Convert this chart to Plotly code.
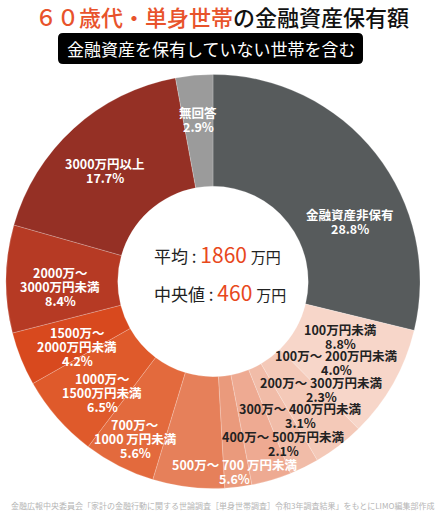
import plotly.graph_objects as go

W, H = 445, 512

categories = ["金融資産非保有", "100万円未満", "100万〜200万円未満", "200万〜300万円未満",
              "300万〜400万円未満", "400万〜500万円未満", "500万〜700万円未満",
              "700万〜1000万円未満", "1000万〜1500万円未満", "1500万〜2000万円未満",
              "2000万〜3000万円未満", "3000万円以上", "無回答"]
values = [28.8, 8.8, 4.0, 2.3, 3.1, 2.1, 5.6, 5.6, 6.5, 4.2, 8.4, 17.7, 2.9]
label_lines = [
    ["金融資産非保有"], ["100万円未満"], ["100万～ 200万円未満"], ["200万～ 300万円未満"],
    ["300万～ 400万円未満"], ["400万～ 500万円未満"], ["500万～ 700 万円未満"],
    ["700万～", "1000 万円未満"], ["1000万～", "1500万円未満"], ["1500万～", "2000万円未満"],
    ["2000万～", "3000万円未満"], ["3000万円以上"], ["無回答"],
]
mean_value = 1860
median_value = 460

colors = ["#575b5c", "#f7d6c9", "#f4c9b8", "#f1bca8", "#eeaa92", "#ea9a7c", "#e6805a",
          "#e36a3d", "#df5a2b", "#d8491e", "#b63a24", "#953025", "#9b9b9b"]
text_colors = ["white", "#222", "#222", "#222", "#222", "#222", "white",
               "white", "white", "white", "white", "white", "white"]
# label block positions in pixels (x centre, y of first line)
label_pos = [(350, 214), (340, 329), (336, 355), (321, 382), (300, 408), (283, 436),
             (235, 464), (135, 424), (102, 378), (77, 332), (60, 272), (105, 163), (198, 112)]

FONT = "Noto Sans CJK JP"

def px(x):
    return x / W

def py(y):
    return 1 - y / H

fig = go.Figure(go.Pie(
    labels=categories, values=values, sort=False, direction="clockwise", rotation=0,
    hole=0.46, textinfo="none", hoverinfo="label+percent",
    marker=dict(colors=colors, line=dict(color="rgba(255,255,255,0.35)", width=0.6)),
    domain=dict(x=[px(6), px(420)], y=[py(488.5), py(74.5)]),
    showlegend=False,
))

ann = []
for lines, val, (cx, cy), tc in zip(label_lines, values, label_pos, text_colors):
    all_lines = lines + [f"{val:.1f}%"]
    for i, t in enumerate(all_lines):
        ann.append(dict(x=px(cx), y=py(cy + i * 14), xref="paper", yref="paper",
                        text=t, showarrow=False, xanchor="center", yanchor="middle",
                        font=dict(family=FONT, size=12.5, color=tc, weight="bold")))

# title
ann.append(dict(x=px(222), y=py(16), xref="paper", yref="paper", showarrow=False,
                xanchor="center", yanchor="middle",
                text="<span style='color:#e8532b'>６０歳代・単身世帯</span>の金融資産保有額",
                font=dict(family=FONT, size=22, color="#111", weight=500)))
# subtitle
ann.append(dict(x=px(211), y=py(48.5), xref="paper", yref="paper", showarrow=False,
                xanchor="center", yanchor="middle",
                text="金融資産を保有していない世帯を含む",
                font=dict(family=FONT, size=17, color="white")))
# centre texts
ann.append(dict(x=px(152), y=py(254), xref="paper", yref="paper", showarrow=False,
                xanchor="left", yanchor="middle",
                text=f"平均 : <span style='color:#e8481c;font-size:21px'>{mean_value}</span> <span style='font-size:15px'>万円</span>",
                font=dict(family=FONT, size=17, color="#222")))
ann.append(dict(x=px(152), y=py(292), xref="paper", yref="paper", showarrow=False,
                xanchor="left", yanchor="middle",
                text=f"中央値 : <span style='color:#e8481c;font-size:21px'>{median_value}</span> <span style='font-size:15px'>万円</span>",
                font=dict(family=FONT, size=17, color="#222")))
# source
ann.append(dict(x=px(222.5), y=py(505), xref="paper", yref="paper", showarrow=False,
                xanchor="center", yanchor="middle",
                text="金融広報中央委員会「家計の金融行動に関する世論調査［単身世帯調査］令和3年調査結果」をもとにLIMO編集部作成",
                font=dict(family=FONT, size=8, color="#b5b5b5")))

# rounded black box for subtitle
x0, x1, y0, y1, r = 58, 363, 33, 64, 5
path = (f"M {px(x0 + r)} {py(y0)} L {px(x1 - r)} {py(y0)} Q {px(x1)} {py(y0)} {px(x1)} {py(y0 + r)} "
        f"L {px(x1)} {py(y1 - r)} Q {px(x1)} {py(y1)} {px(x1 - r)} {py(y1)} "
        f"L {px(x0 + r)} {py(y1)} Q {px(x0)} {py(y1)} {px(x0)} {py(y1 - r)} "
        f"L {px(x0)} {py(y0 + r)} Q {px(x0)} {py(y0)} {px(x0 + r)} {py(y0)} Z")

fig.update_layout(
    width=W, height=H, margin=dict(l=0, r=0, t=0, b=0),
    paper_bgcolor="white", plot_bgcolor="white",
    annotations=ann,
    shapes=[dict(type="path", xref="paper", yref="paper", path=path,
                 fillcolor="black", line=dict(width=0), layer="below")],
)

fig.write_html("out.html", config={"displayModeBar": False},
               post_script="document.body.style.margin='0';document.body.style.padding='0';")
